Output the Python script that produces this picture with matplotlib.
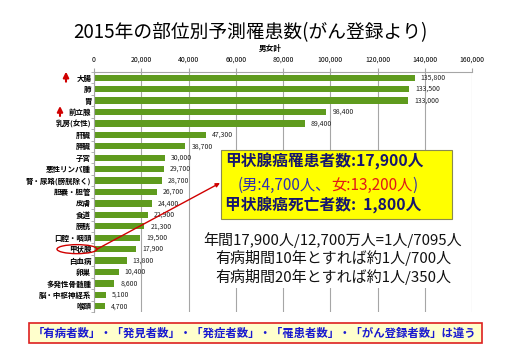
import matplotlib

matplotlib.use("Agg")
import matplotlib.pyplot as plt
from matplotlib.patches import Ellipse, Rectangle
from matplotlib.text import Annotation
from matplotlib.transforms import Affine2D

plt.rcParams["font.family"] = ["Noto Sans CJK JP", "DejaVu Sans"]

W, H = 512, 355

# data (男女計, 2015 予測罹患数)
sites = [
    "大腸", "肺", "胃", "前立腺", "乳房(女性)", "肝臓", "膵臓", "子宮",
    "悪性リンパ腫", "腎・尿路(膀胱除く)", "胆嚢・胆管", "皮膚", "食道", "膀胱",
    "口腔・咽頭", "甲状腺", "白血病", "卵巣", "多発性骨髄腫", "脳・中枢神経系", "喉頭",
]
cases = [
    135800, 133500, 133000, 98400, 89400, 47300, 38700, 30000,
    29700, 28700, 26700, 24400, 22900, 21300,
    19500, 17900, 13800, 10400, 8600, 5100, 4700,
]
x_ticks = [0, 20000, 40000, 60000, 80000, 100000, 120000, 140000, 160000]
rising = ["大腸", "前立腺"]

BAR = "#5f9b1e"
GRID = "#a6a6a6"

fig = plt.figure(figsize=(W / 100, H / 100), dpi=100)
# pixel coords, origin top-left
T = Affine2D().scale(1 / W, -1 / H).translate(0, 1) + fig.transFigure

left, right, top, bottom = 94, 472, 72, 312
ax = fig.add_axes([left / W, 1 - bottom / H, (right - left) / W, (bottom - top) / H])

y = list(range(len(sites)))
ax.barh(y, cases, height=0.55, color=BAR, zorder=2)
for yi, v in zip(y, cases):
    ax.text(v + 2500, yi, f"{v:,}", va="center", ha="left", fontsize=5, color="#222", zorder=3)

ax.set_xlim(0, 160000)
ax.set_ylim(len(sites) - 0.5, -0.5)
ax.xaxis.tick_top()
ax.set_xticks(x_ticks)
ax.set_xticklabels([f"{t:,}" for t in x_ticks], fontsize=5)
ax.tick_params(axis="x", length=3, color=GRID, pad=3)
ax.set_yticks(y)
ax.set_yticklabels(sites, fontsize=5.4, fontweight="bold")
ax.tick_params(axis="y", length=0, pad=2)
ax.set_yticks([i + 0.5 for i in range(-1, len(sites))], minor=True)
ax.tick_params(axis="y", which="minor", length=2.5, color=GRID)
ax.grid(True, axis="x", color=GRID, linewidth=0.8, zorder=0)
for s in ("right", "bottom"):
    ax.spines[s].set_visible(False)
for s in ("top", "left"):
    ax.spines[s].set_color(GRID)

# titles
fig.text(250, 33, "2015年の部位別予測罹患数(がん登録より)", transform=T,
         ha="center", va="center", fontsize=13.5)
fig.text(270, 48, "男女計", transform=T, ha="center", va="center", fontsize=5.5, fontweight="bold")

# red arrows for rising sites
for name, ax_x in zip(rising, [66, 60]):
    i = sites.index(name)
    yp = top + (bottom - top) * (i + 0.5) / len(sites)
    fig.add_artist(Annotation("", xy=(ax_x, yp - 6), xycoords=T, xytext=(ax_x, yp + 4), textcoords=T,
                              arrowprops=dict(arrowstyle="-|>", color="#d00000", lw=1.5,
                                              mutation_scale=8, shrinkA=0, shrinkB=0)))

# circle around 甲状腺 and pointer to box
iy = top + (bottom - top) * (sites.index("甲状腺") + 0.5) / len(sites)
fig.add_artist(Ellipse((77, iy), 40, 9, transform=T, fill=False, edgecolor="#d00000", lw=1.0))
fig.add_artist(Annotation("", xy=(220, 183), xycoords=T, xytext=(97, iy), textcoords=T,
                          arrowprops=dict(arrowstyle="-|>", color="#d00000", lw=1.0,
                                          mutation_scale=6, shrinkA=0, shrinkB=0)))

# white area behind the rate text
fig.add_artist(Rectangle((198, 219), 272, 69, transform=T, facecolor="white", edgecolor="none"))
# yellow info box
fig.add_artist(Rectangle((221, 150), 231, 69, transform=T, facecolor="#ffff00",
                         edgecolor="#8a8a50", lw=0.8))
NAVY = "#16166e"
fig.text(225, 161, "甲状腺癌罹患者数:17,900人", transform=T, ha="left", va="center",
         fontsize=11.3, fontweight="bold", color=NAVY)
t1 = fig.text(238, 185, "(男:4,700人、", transform=T, ha="left", va="center",
              fontsize=11, color="#3030b0")
t2 = Annotation("女:13,200人", xy=(1, 0), xycoords=t1, va="bottom", ha="left",
                fontsize=11, color="#e01818")
fig.add_artist(t2)
fig.add_artist(Annotation(")", xy=(1, 0), xycoords=t2, va="bottom", ha="left",
                          fontsize=11, color="#3030b0"))
fig.text(225, 205, "甲状腺癌死亡者数:  1,800人", transform=T, ha="left", va="center",
         fontsize=11.3, fontweight="bold", color=NAVY)

rate_lines = [
    "年間17,900人/12,700万人=1人/7095人",
    "有病期間10年とすれば約1人/700人",
    "有病期間20年とすれば約1人/350人",
]
for line, yp in zip(rate_lines, [240, 258, 277]):
    fig.text(333, yp, line, transform=T, ha="center", va="center", fontsize=10.8, color="#111")

# bottom note
fig.add_artist(Rectangle((29, 323), 453, 20, transform=T, facecolor="#ffffcc",
                         edgecolor="#dd2020", lw=1.2))
fig.text(255, 333, "「有病者数」・「発見者数」・「発症者数」・「罹患者数」・「がん登録者数」は違う",
         transform=T, ha="center", va="center", fontsize=8.2, fontweight="bold", color="#1a1ad0")

fig.savefig("out.png", dpi=100)
